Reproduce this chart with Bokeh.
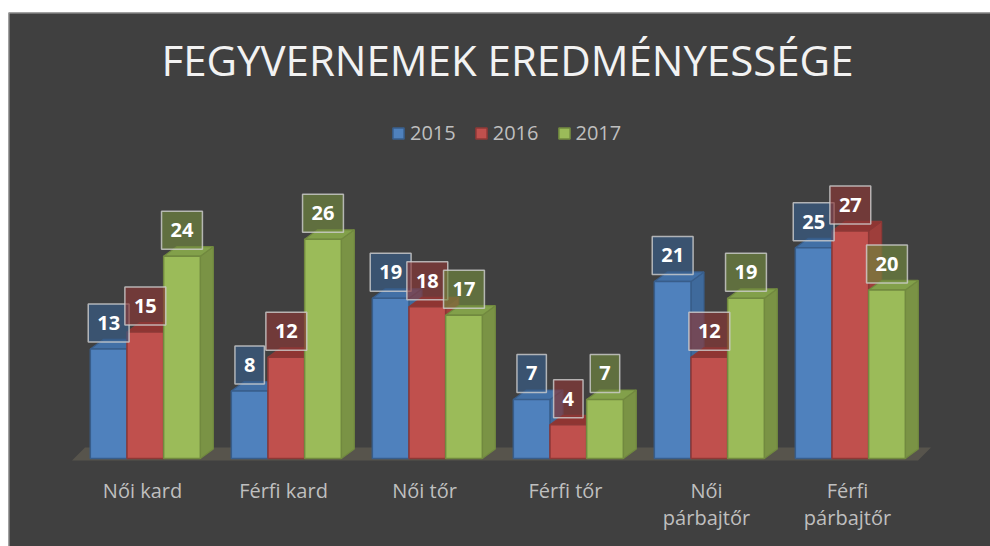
from bokeh.plotting import figure
from bokeh.models import (ColumnDataSource, Range1d, Legend, LegendItem,
                          Label, Spacer, Span)
from bokeh.layouts import column, row
from bokeh.core.properties import value
from bokeh.embed import file_html
from bokeh.resources import INLINE

# ---- data ----
categories = ["Női kard", "Férfi kard", "Női tőr", "Férfi tőr", "Női\npárbajtőr", "Férfi\npárbajtőr"]
years = ["2015", "2016", "2017"]
v2015 = [13, 8, 19, 7, 21, 25]
v2016 = [15, 12, 18, 4, 12, 27]
v2017 = [24, 26, 17, 7, 19, 20]
series_values = [v2015, v2016, v2017]

title_text = "FEGYVERNEMEK EREDMÉNYESSÉGE"

# ---- styles ----
BG = "#404040"
front_colors = ["#4f81bd", "#c0504d", "#9bbb59"]
line_colors = ["#385d8a", "#8c3836", "#71893f"]
side_colors = ["#3f6a9c", "#9e3e3b", "#7a9345"]
top_colors = ["#4270a6", "#8f3532", "#82a04a"]
box_colors = ["#385d8a", "#8c3836", "#71893f"]
FONT = "Open Sans"

FIG_W, FIG_H = 982, 534
PX_X = 141.0           # pixels per category unit
PX_Y = 8.43            # pixels per value unit
BASE_FROM_BOTTOM = 88  # pixels from canvas bottom to the value 0
x_start = -134.0 / PX_X
x_end = x_start + FIG_W / PX_X
y_start = -BASE_FROM_BOTTOM / PX_Y
y_end = y_start + FIG_H / PX_Y

bar_w = 0.26
group_shift = 0.02
offsets = [-bar_w, 0.0, bar_w]
dx = 13.0 / PX_X
dy = 9.5 / PX_Y

p = figure(width=FIG_W, height=FIG_H, output_backend="svg", toolbar_location=None,
           x_range=Range1d(x_start, x_end), y_range=Range1d(y_start, y_end),
           min_border=0, min_border_left=0, min_border_right=0,
           min_border_top=0, min_border_bottom=0)
p.background_fill_color = BG
p.border_fill_color = BG
p.outline_line_color = None
p.grid.visible = False
p.xaxis.visible = False
p.yaxis.visible = False

# floor
n = len(categories)
fl, fr = -0.5, n - 0.5
fb = -2.0 / PX_Y
fdx, fdy = 13.0 / PX_X, 13.0 / PX_Y
p.patch([fl, fr, fr + fdx, fl + fdx], [fb, fb, fb + fdy, fb + fdy],
        fill_color="#57544c", line_color=None)

legend_items = []
for s, vals in enumerate(series_values):
    xc = [i + group_shift + offsets[s] for i in range(n)]
    L = [x - bar_w / 2 for x in xc]
    R = [x + bar_w / 2 for x in xc]
    side_xs = [[r, r + dx, r + dx, r] for r in R]
    side_ys = [[0, dy, v + dy, v] for v in vals]
    p.patches(side_xs, side_ys, fill_color=side_colors[s], line_color=line_colors[s], line_width=1.2)
    top_xs = [[l, r, r + dx, l + dx] for l, r in zip(L, R)]
    top_ys = [[v, v, v + dy, v + dy] for v in vals]
    p.patches(top_xs, top_ys, fill_color=top_colors[s], line_color=line_colors[s], line_width=1.2)
    src = ColumnDataSource(dict(left=L, right=R, top=vals, bottom=[0] * n))
    r_front = p.quad(left="left", right="right", top="top", bottom="bottom", source=src,
                     fill_color=front_colors[s], line_color=line_colors[s], line_width=1.5)
    legend_items.append(LegendItem(label=years[s], renderers=[r_front]))

# data labels
for s, vals in enumerate(series_values):
    xc = [i + group_shift + offsets[s] for i in range(n)]
    lsrc = ColumnDataSource(dict(x=xc, y=vals, t=[str(v) for v in vals]))
    p.text(x="x", y="y", text="t", source=lsrc, y_offset=-26,
           text_align="center", text_baseline="middle",
           text_font=value(FONT), text_font_style="bold", text_font_size="20px",
           text_color="#ffffff",
           background_fill_color=box_colors[s], background_fill_alpha=0.65,
           border_line_color="#d0d0d0", border_line_alpha=0.8, border_line_width=1.5,
           padding=dict(left=9, right=9, top=12, bottom=12))

# category labels
csrc = ColumnDataSource(dict(x=list(range(n)), y=[0] * n, t=categories))
p.text(x="x", y="y", text="t", source=csrc, y_offset=18,
       text_align="center", text_baseline="top", text_line_height=1.0,
       text_font=value(FONT), text_font_size="20px", text_color="#bfbfbf")

# legend
legend = Legend(items=legend_items, orientation="horizontal", location=(383, 400),
                glyph_width=14, glyph_height=14, label_standoff=5, spacing=18,
                padding=0, margin=0, border_line_color=None, background_fill_alpha=0,
                label_text_font=FONT, label_text_font_size="20px", label_text_color="#bfbfbf")
p.add_layout(legend)

# title
p.add_layout(Label(x=499, y=487, x_units="screen", y_units="screen", text=title_text,
                   text_align="center", text_baseline="alphabetic",
                   text_font=FONT, text_font_size="42px", text_color="#f2f2f2"))

# chart border (left and top)
p.add_layout(Span(location=0.5, location_units="screen", dimension="height",
                  line_color="#a6a6a6", line_width=1))
p.add_layout(Span(location=FIG_H - 0.5, location_units="screen", dimension="width",
                  line_color="#a6a6a6", line_width=1))

layout = column(Spacer(height=12, width=8 + FIG_W), row(Spacer(width=8, height=FIG_H), p))
open("out.html", "w").write(file_html(layout, INLINE))
